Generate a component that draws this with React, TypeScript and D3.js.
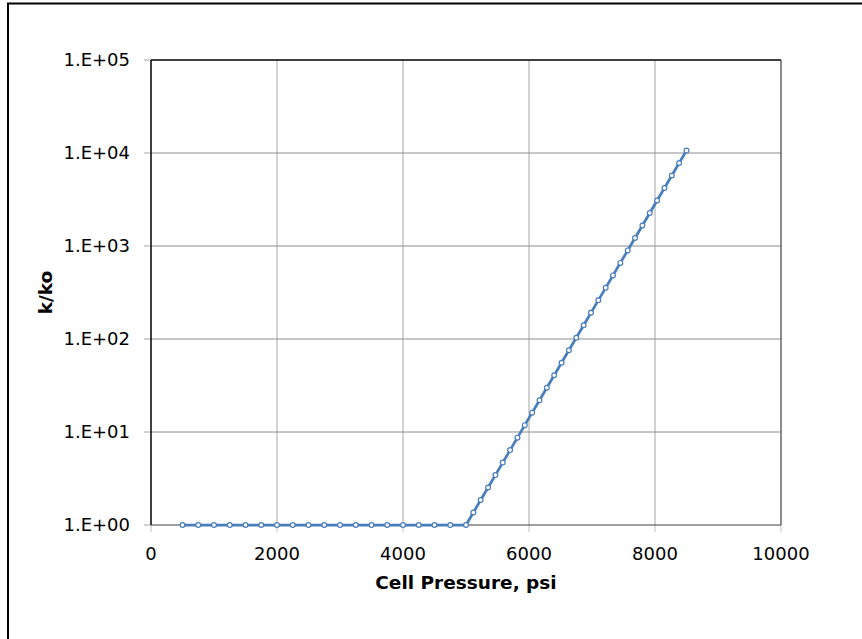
import React from "react";
import * as d3 from "d3";

const flatPressure = [500, 750, 1000, 1250, 1500, 1750, 2000, 2250, 2500, 2750, 3000, 3250, 3500, 3750, 4000, 4250, 4500, 4750];
const flatRatio = [1, 1, 1, 1, 1, 1, 1, 1, 1, 1, 1, 1, 1, 1, 1, 1, 1, 1];
const risePressure = [5000, 5117, 5233, 5350, 5467, 5583, 5700, 5817, 5933, 6050, 6167, 6283, 6400, 6517, 6633, 6750, 6867, 6983, 7100, 7217, 7333, 7450, 7567, 7683, 7800, 7917, 8033, 8150, 8267, 8383, 8500];
const riseRatio = [1, 1.362, 1.855, 2.527, 3.441, 4.688, 6.385, 8.697, 11.85, 16.14, 21.98, 29.94, 40.78, 55.54, 75.66, 103.0, 140.4, 191.2, 260.4, 354.7, 483.1, 658.0, 896.3, 1221, 1663, 2265, 3085, 4202, 5723, 7796, 10617];

const xTicks = [0, 2000, 4000, 6000, 8000, 10000];
const yTicks = [1, 10, 100, 1000, 10000, 100000];
const yTickLabels = ["1.E+00", "1.E+01", "1.E+02", "1.E+03", "1.E+04", "1.E+05"];
const xTitle = "Cell Pressure, psi";
const yTitle = "k/ko";

const W = 862;
const H = 639;
const L = 151, R = 781, T = 60, B = 525;
const FONT = "'DejaVu Sans', Verdana, sans-serif";
const BLUE = "#4A7EBB";

export default function App() {
  const x = d3.scaleLinear().domain([0, 10000]).range([L, R]);
  const y = d3.scaleLog().domain([1, 100000]).range([B, T]);
  const pts: [number, number][] = [
    ...flatPressure.map((p, i) => [p, flatRatio[i]] as [number, number]),
    ...risePressure.map((p, i) => [p, riseRatio[i]] as [number, number]),
  ];
  const line = d3.line<[number, number]>().x((d) => x(d[0])).y((d) => y(d[1]));

  return (
    <svg width={W} height={H} style={{ position: "absolute", left: 0, top: 0, background: "#fff" }} fontFamily={FONT}>
      <rect x={0} y={0} width={W} height={H} fill="#fff" />
      <rect x={8} y={3.5} width={1000} height={1000} fill="none" stroke="#000" strokeWidth={2} />
      {/* gridlines */}
      {xTicks.slice(1, -1).map((t) => (
        <line key={"gx" + t} x1={x(t)} x2={x(t)} y1={T} y2={B} stroke="#A6A6A6" strokeWidth={1} />
      ))}
      {yTicks.slice(1, -1).map((t) => (
        <line key={"gy" + t} x1={L} x2={R} y1={y(t)} y2={y(t)} stroke="#8C8C8C" strokeWidth={1} />
      ))}
      {/* tick marks */}
      {xTicks.map((t) => (
        <line key={"tx" + t} x1={x(t)} x2={x(t)} y1={B} y2={B + 7} stroke="#BFBFBF" strokeWidth={1} />
      ))}
      {yTicks.map((t) => (
        <line key={"ty" + t} x1={L - 7} x2={L} y1={y(t)} y2={y(t)} stroke="#A6A6A6" strokeWidth={1} />
      ))}
      {/* plot border */}
      <line x1={L} x2={R} y1={T} y2={T} stroke="#000" strokeWidth={1.5} />
      <line x1={L} x2={L} y1={T} y2={B} stroke="#000" strokeWidth={1.5} />
      <line x1={R} x2={R} y1={T} y2={B} stroke="#404040" strokeWidth={1.2} />
      <line x1={L} x2={R} y1={B} y2={B} stroke="#404040" strokeWidth={1.2} />
      {/* tick labels */}
      {xTicks.map((t) => (
        <text key={"lx" + t} x={x(t)} y={560} textAnchor="middle" fontSize={18} fill="#000">
          {String(t)}
        </text>
      ))}
      {yTicks.map((t, i) => (
        <text key={"ly" + t} x={130} y={y(t)} dy="0.36em" textAnchor="end" fontSize={18} fill="#000">
          {yTickLabels[i]}
        </text>
      ))}
      {/* titles */}
      <text x={(L + R) / 2} y={589} textAnchor="middle" fontSize={18.5} fontWeight="bold" fill="#000">
        {xTitle}
      </text>
      <text transform={`translate(52, ${(T + B) / 2}) rotate(-90)`} textAnchor="middle" fontSize={18.5} fontWeight="bold" fill="#000">
        {yTitle}
      </text>
      {/* series */}
      <path d={line(pts) || ""} fill="none" stroke={BLUE} strokeWidth={2.75} strokeLinejoin="round" />
      {pts.map((d, i) => (
        <circle key={"c" + i} cx={x(d[0])} cy={y(d[1])} r={2.4} fill="#fff" stroke={BLUE} strokeWidth={1.2} />
      ))}
    </svg>
  );
}
